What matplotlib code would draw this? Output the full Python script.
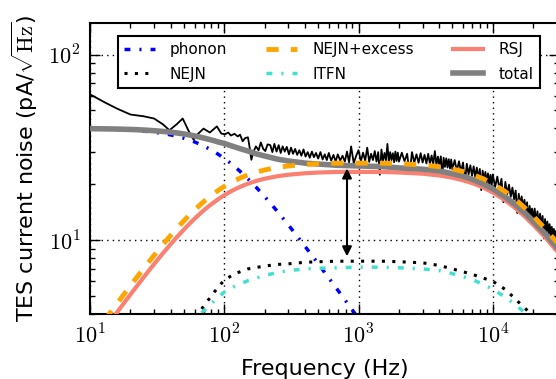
import numpy as np
import matplotlib
matplotlib.use("Agg")
import matplotlib.pyplot as plt
from matplotlib.ticker import FuncFormatter, NullFormatter

plt.rcParams['mathtext.fontset'] = 'cm'
plt.rcParams['font.family'] = ['DejaVu Sans']

# model curves
freq = [10, 11, 12, 13.5, 15, 17, 20, 22.5, 25, 27.5, 30, 35, 40, 45, 50, 55, 60,
        65, 70, 77, 85, 92, 100, 110, 120, 135, 150, 175, 200, 250, 300, 400, 500,
        700, 1000, 1500, 2000, 3000, 4000, 5000, 6000, 7000, 8500, 10000, 11000,
        12500, 14000, 15000, 17500, 20000, 22500, 25000, 28000, 31000]
phonon = [39.78, 39.73, 39.68, 39.6, 39.51, 39.38, 39.14, 38.92, 38.68, 38.42,
          38.14, 37.53, 36.87, 36.15, 35.4, 34.62, 33.82, 33.01, 32.2, 31.07,
          29.81, 28.73, 27.55, 26.14, 24.83, 23.02, 21.4, 19.08, 17.16, 14.21,
          12.08, 9.24, 7.47, 5.38, 3.78]
rsj = [2.59, 2.85, 3.11, 3.49, 3.86, 4.36, 5.1, 5.7, 6.29, 6.87, 7.43, 8.52, 9.54,
       10.51, 11.41, 12.25, 13.03, 13.76, 14.43, 15.28, 16.13, 16.8, 17.47, 18.19,
       18.8, 19.55, 20.15, 20.9, 21.43, 22.11, 22.51, 22.93, 23.13, 23.31, 23.32,
       23.3, 23.15, 22.8, 22.3, 21.7, 21.0, 20.3, 19.2, 18.05, 17.3, 16.3, 15.3,
       14.7, 13.3, 12.1, 11.06, 10.2, 9.26, 8.5]
excess = [2.89, 3.18, 3.47, 3.89, 4.3, 4.86, 5.69, 6.36, 7.01, 7.66, 8.28, 9.5,
          10.64, 11.72, 12.72, 13.66, 14.53, 15.34, 16.09, 17.04, 17.98, 18.73,
          19.48, 20.28, 20.96, 21.8, 22.47, 23.3, 23.89, 24.65, 25.1, 25.57, 25.79,
          25.99, 26.0, 25.98, 25.81, 25.42, 24.86, 24.2, 23.42, 22.63, 21.41, 20.13,
          19.29, 18.17, 17.06, 16.39, 14.83, 13.49, 12.33, 11.37, 10.32, 9.48]
total = [39.86, 39.83, 39.8, 39.75, 39.7, 39.62, 39.47, 39.34, 39.19, 39.03, 38.86,
         38.52, 38.15, 37.75, 37.33, 36.89, 36.43, 35.98, 35.53, 34.91, 34.23,
         33.65, 33.2, 32.4, 31.75, 30.9, 30.2, 29.1, 28.4, 27.3, 26.7, 26.0, 25.7,
         25.3, 25.1, 24.9, 24.5, 24.1, 23.6, 22.8, 22.1, 21.3, 20.05, 18.9, 18.07,
         17.0, 15.98, 15.36, 13.92, 12.65, 11.57, 10.66, 9.69, 8.9]

freq_hi = [50, 60, 70, 85, 100, 120, 150, 200, 250, 300, 400, 500, 700, 1000,
           1500, 2000, 3000, 4000, 5000, 7000, 10000, 12500, 15000, 20000, 25000, 31000]
nejn = [3.1, 3.75, 4.4, 5.3, 6.1, 6.6, 7.0, 7.25, 7.4, 7.45, 7.6, 7.65, 7.7, 7.7,
        7.7, 7.65, 7.55, 7.3, 7.0, 6.55, 6.0, 5.4, 4.75, 3.9, 3.3, 2.8]
itfn = [3.2, 3.7, 4.15, 4.75, 5.25, 5.65, 6.05, 6.45, 6.7, 6.85, 7.0, 7.05, 7.1,
        7.15, 7.15, 7.1, 7.0, 6.85, 6.6, 6.15, 5.45, 4.9, 4.45, 3.7, 3.1, 2.6]

# measured spectrum (f, noise)
measured = [
    (10, 61), (13, 55), (16, 51), (20, 47.5), (25, 46.5), (30, 45.2), (35, 42),
    (39, 39.1), (44, 42), (49, 45.2), (54, 39), (59, 34.8), (64, 37.5), (70, 39.9),
    (78, 38.0), (88, 41), (95, 37.5), (101, 37.2), (107, 38), (112, 36.6),
    (119, 37.4), (126, 36.2), (131, 37), (137, 34.1), (143, 35.5), (150, 35.8),
    (155, 31), (159, 27.1), (165, 30), (172, 32), (180, 30.5), (187, 33.6),
    (195, 31), (202, 30.2), (210, 32.8), (220, 32.5), (228, 29.8), (236, 33.0),
    (245, 30.0), (254, 32.5), (263, 29.5), (272, 32.0), (282, 30.0), (292, 31.8),
    (303, 29.0), (314, 31.5), (325, 29.2), (337, 31.0), (349, 28.8), (362, 30.5),
    (375, 28.5), (389, 30.8), (403, 28.2), (418, 29.8), (433, 27.8), (449, 30.0),
    (465, 28.0), (482, 29.5), (500, 27.5), (520, 29.8), (540, 27.2), (560, 29.0),
    (580, 27.0), (600, 29.5), (625, 26.8), (650, 28.8), (675, 26.5), (700, 29.0),
    (730, 26.8), (760, 28.5), (790, 26.5), (820, 30.0), (850, 26.2), (880, 32.0),
    (920, 26.0), (960, 28.5),
    (1000, 30.5), (1040, 26.6), (1080, 29.6), (1120, 26.8), (1160, 31.5),
    (1200, 26.4), (1240, 29.2), (1280, 27.0), (1320, 30.2), (1360, 26.5),
    (1400, 29.8), (1440, 22.5), (1480, 30.8), (1520, 26.6), (1560, 29.5),
    (1600, 26.9), (1640, 33.0), (1680, 26.4), (1720, 29.8), (1760, 27.0),
    (1800, 29.4), (1840, 26.3), (1880, 30.0), (1920, 26.7), (1960, 29.6),
    (2000, 26.5), (2100, 29.6), (2200, 26.6), (2300, 29.2), (2400, 22.8),
    (2500, 29.8), (2600, 26.2), (2700, 29.0), (2800, 26.1), (2900, 29.4),
    (3000, 26.2), (3100, 28.8), (3200, 25.9), (3300, 29.2), (3400, 25.8),
    (3500, 28.6), (3600, 25.6), (3700, 30.2), (3800, 25.4), (3900, 28.2),
    (4000, 25.2), (4100, 28.3), (4200, 22.0), (4300, 27.8), (4400, 24.8),
    (4500, 27.6), (4600, 24.6), (4700, 27.3), (4800, 24.3), (4900, 27.2),
    (5000, 24.0), (5200, 27.0), (5400, 23.7), (5600, 26.6), (5800, 23.3),
    (6000, 26.2), (6200, 20.5), (6400, 25.8), (6600, 22.6), (6800, 25.3),
    (7000, 22.2), (7200, 25.0), (7400, 21.8), (7600, 24.6), (7800, 21.4),
    (8000, 24.2), (8200, 18.6), (8400, 23.7), (8600, 20.6), (8800, 23.3),
    (9000, 20.3), (9200, 22.9), (9400, 19.9), (9600, 22.5), (9800, 19.6),
    (10000, 22.6), (10400, 19.3), (10800, 22.0), (11200, 18.8), (11600, 21.4),
    (12000, 16.0), (12400, 20.6), (12800, 17.7), (13200, 19.9), (13600, 17.1),
    (14000, 19.2), (14400, 16.6), (14800, 18.5), (15200, 14.0), (15600, 17.8),
    (16000, 15.4), (16400, 17.2), (16800, 15.0), (17200, 16.5), (17600, 14.5),
    (18000, 16.0), (18400, 12.6), (18800, 15.3), (19200, 13.5), (19600, 14.8),
    (20000, 12.9), (20500, 14.8), (21000, 12.5), (21500, 14.3), (22000, 12.1),
    (22500, 13.9), (23000, 11.8), (23500, 13.5), (24000, 10.2), (24500, 13.0),
    (25000, 11.1), (25500, 12.6), (26000, 10.8), (26500, 12.2), (27000, 10.5),
    (27500, 11.8), (28000, 10.2), (28500, 11.5), (29000, 9.9), (29500, 11.2),
    (30000, 9.6), (30500, 10.8), (31000, 9.4),
]
meas_f = [p[0] for p in measured]
meas_v = [p[1] for p in measured]

arrow_f = 820
arrow_lo, arrow_hi = 7.9, 25.2

fig = plt.figure(figsize=(5.56, 3.79), dpi=100)
ax = fig.add_axes([0.162, 0.1715, 0.843, 0.768])

dashdot = (0, (1.7, 2.6, 0.6, 2.6))
ax.plot(meas_f, meas_v, color='k', lw=1.3, zorder=1)
ax.plot(freq[:len(phonon)], phonon, color='b', lw=2.5, ls=dashdot, label='phonon', zorder=2)
ax.plot(freq_hi, nejn, color='k', lw=2.2, ls=(0, (1, 2.4)), label='NEJN', zorder=2)
ax.plot(freq, excess, color='orange', lw=3.5, ls=(0, (2.5, 2.5)), label='NEJN+excess', zorder=5)
ax.plot(freq_hi, itfn, color='turquoise', lw=2.5, ls=dashdot, label='ITFN', zorder=2)
ax.plot(freq, rsj, color='salmon', lw=3, label='RSJ', zorder=3)
ax.plot(freq, total, color='gray', lw=4, label='total', zorder=4)

ax.annotate('', xy=(arrow_f, arrow_hi), xytext=(arrow_f, arrow_lo),
            arrowprops=dict(arrowstyle='<|-|>', color='k', lw=1.5, mutation_scale=14),
            zorder=6)

ax.set_xscale('log')
ax.set_yscale('log')
ax.set_xlim(10, 3.1e4)
ax.set_ylim(4, 148)

fmt = FuncFormatter(lambda v, p: r'$10^{%d}$' % int(round(np.log10(v))))
ax.xaxis.set_major_formatter(fmt)
ax.yaxis.set_major_formatter(fmt)
ax.xaxis.set_minor_formatter(NullFormatter())
ax.yaxis.set_minor_formatter(NullFormatter())

ax.grid(True, which='major', ls=(0, (1, 3)), color='k', lw=1)
ax.set_axisbelow(True)
ax.tick_params(which='both', direction='in', top=True, right=True, width=1)
ax.tick_params(which='major', length=7, labelsize=16, pad=7)
ax.tick_params(which='minor', length=3.5)
for s in ax.spines.values():
    s.set_linewidth(1.5)

ax.set_xlabel('Frequency (Hz)', fontsize=16, labelpad=8)
ax.set_ylabel(r'TES current noise (pA/$\sqrt{\mathrm{Hz}}$)', fontsize=16, labelpad=6)

leg = ax.legend(ncol=3, loc='upper left', bbox_to_anchor=(0.0597, 0.955),
                fontsize=11, fancybox=False, edgecolor='k', framealpha=1,
                borderaxespad=0, handlelength=2.0, handletextpad=1.0,
                columnspacing=2.55, labelspacing=0.62)
leg.get_frame().set_linewidth(1.5)

fig.savefig('out.png', dpi=100)
